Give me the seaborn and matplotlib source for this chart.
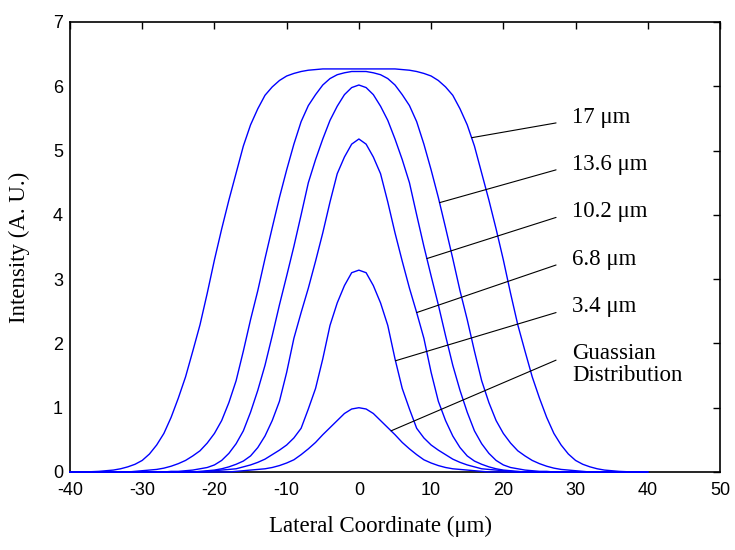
import numpy as np
import pandas as pd
import matplotlib
matplotlib.use("Agg")
import matplotlib.pyplot as plt
import seaborn as sns

# ---------------- data ----------------
x_um = [-40, -38, -36, -34, -33, -32, -31, -30, -29, -28, -27, -26, -25, -24, -23, -22, -21,
        -20, -19, -18, -17, -16, -15, -14, -13, -12, -11, -10, -9, -8, -7, -6, -5, -4, -3, -2, -1,
        0,
        1, 2, 3, 4, 5, 6, 7, 8, 9, 10, 11, 12, 13, 14, 15, 16, 17, 18, 19, 20,
        21, 22, 23, 24, 25, 26, 27, 28, 29, 30, 31, 32, 33, 34, 36, 38, 40]

i_17 = [0.0, 0.0, 0.01, 0.03, 0.05, 0.08, 0.12, 0.18, 0.28, 0.42, 0.60, 0.85, 1.15, 1.48, 1.88, 2.29, 2.78,
        3.30, 3.78, 4.23, 4.65, 5.07, 5.40, 5.65, 5.86, 5.99, 6.09, 6.16, 6.20, 6.23, 6.25, 6.26, 6.27, 6.27, 6.27, 6.27, 6.27,
        6.27,
        6.27, 6.27, 6.27, 6.27, 6.27, 6.26, 6.25, 6.23, 6.20, 6.16, 6.09, 5.99, 5.86, 5.65, 5.40, 5.07, 4.65, 4.23, 3.78, 3.30,
        2.78, 2.29, 1.88, 1.48, 1.15, 0.85, 0.60, 0.42, 0.28, 0.18, 0.12, 0.08, 0.05, 0.03, 0.01, 0.0, 0.0]

i_13_6 = [0.0, 0.0, 0.0, 0.0, 0.0, 0.0, 0.01, 0.02, 0.03, 0.04, 0.06, 0.09, 0.13, 0.18, 0.25, 0.33, 0.45,
          0.60, 0.80, 1.08, 1.42, 1.88, 2.37, 2.82, 3.32, 3.80, 4.27, 4.70, 5.10, 5.45, 5.70, 5.87, 6.02, 6.12, 6.18, 6.21, 6.23,
          6.23,
          6.23, 6.21, 6.18, 6.12, 6.02, 5.87, 5.70, 5.45, 5.10, 4.70, 4.27, 3.80, 3.32, 2.82, 2.37, 1.88, 1.42, 1.08, 0.80, 0.60,
          0.45, 0.33, 0.25, 0.18, 0.13, 0.09, 0.06, 0.04, 0.03, 0.02, 0.01, 0.0, 0.0, 0.0, 0.0, 0.0, 0.0]

i_10_2 = [0.0, 0.0, 0.0, 0.0, 0.0, 0.0, 0.0, 0.0, 0.0, 0.0, 0.0, 0.01, 0.01, 0.02, 0.03, 0.05, 0.07,
          0.11, 0.18, 0.29, 0.44, 0.64, 0.93, 1.27, 1.66, 2.12, 2.60, 3.05, 3.51, 4.00, 4.50, 4.86, 5.18, 5.47, 5.69, 5.87, 5.98,
          6.02,
          5.98, 5.87, 5.69, 5.47, 5.18, 4.86, 4.50, 4.00, 3.51, 3.05, 2.60, 2.12, 1.66, 1.27, 0.93, 0.64, 0.44, 0.29, 0.18, 0.11,
          0.07, 0.05, 0.03, 0.02, 0.01, 0.01, 0.0, 0.0, 0.0, 0.0, 0.0, 0.0, 0.0, 0.0, 0.0, 0.0, 0.0]

i_6_8 = [0.0, 0.0, 0.0, 0.0, 0.0, 0.0, 0.0, 0.0, 0.0, 0.0, 0.0, 0.0, 0.0, 0.0, 0.0, 0.01, 0.02,
         0.03, 0.05, 0.08, 0.12, 0.17, 0.25, 0.38, 0.56, 0.80, 1.10, 1.55, 2.08, 2.48, 2.86, 3.28, 3.72, 4.20, 4.64, 4.90, 5.10,
         5.18,
         5.10, 4.90, 4.64, 4.20, 3.72, 3.28, 2.86, 2.48, 2.08, 1.55, 1.10, 0.80, 0.56, 0.38, 0.25, 0.17, 0.12, 0.08, 0.05, 0.03,
         0.02, 0.01, 0.0, 0.0, 0.0, 0.0, 0.0, 0.0, 0.0, 0.0, 0.0, 0.0, 0.0, 0.0, 0.0, 0.0, 0.0]

i_3_4 = [0.0, 0.0, 0.0, 0.0, 0.0, 0.0, 0.0, 0.0, 0.0, 0.0, 0.0, 0.0, 0.0, 0.0, 0.0, 0.0, 0.01,
         0.02, 0.03, 0.04, 0.05, 0.08, 0.11, 0.15, 0.20, 0.27, 0.34, 0.42, 0.53, 0.68, 0.98, 1.30, 1.76, 2.28, 2.63, 2.90, 3.10,
         3.14,
         3.10, 2.90, 2.63, 2.28, 1.76, 1.30, 0.98, 0.68, 0.53, 0.42, 0.34, 0.27, 0.20, 0.15, 0.11, 0.08, 0.05, 0.04, 0.03, 0.02,
         0.01, 0.0, 0.0, 0.0, 0.0, 0.0, 0.0, 0.0, 0.0, 0.0, 0.0, 0.0, 0.0, 0.0, 0.0, 0.0, 0.0]

i_gauss = [0.0, 0.0, 0.0, 0.0, 0.0, 0.0, 0.0, 0.0, 0.0, 0.0, 0.0, 0.0, 0.0, 0.0, 0.0, 0.0, 0.0,
           0.0, 0.0, 0.0, 0.01, 0.02, 0.03, 0.04, 0.05, 0.07, 0.10, 0.14, 0.19, 0.27, 0.36, 0.46, 0.58, 0.69, 0.80, 0.91, 0.98,
           1.00,
           0.98, 0.91, 0.80, 0.69, 0.58, 0.46, 0.36, 0.27, 0.19, 0.14, 0.10, 0.07, 0.05, 0.04, 0.03, 0.02, 0.01, 0.0, 0.0, 0.0,
           0.0, 0.0, 0.0, 0.0, 0.0, 0.0, 0.0, 0.0, 0.0, 0.0, 0.0, 0.0, 0.0, 0.0, 0.0, 0.0, 0.0]

profile_names = ["17 μm", "13.6 μm", "10.2 μm", "6.8 μm", "3.4 μm", "Guassian\nDistribution"]
profiles = [i_17, i_13_6, i_10_2, i_6_8, i_3_4, i_gauss]

x_ticks = [-40, -30, -20, -10, 0, 10, 20, 30, 40, 50]
y_ticks = [0, 1, 2, 3, 4, 5, 6, 7]

df = pd.concat(
    [pd.DataFrame({"x": x_um, "intensity": vals, "profile": name})
     for name, vals in zip(profile_names, profiles)],
    ignore_index=True)

# ---------------- style ----------------
sns.set_theme(style="white")
plt.rcParams["font.family"] = ["Liberation Sans", "DejaVu Sans"]
plt.rcParams["axes.unicode_minus"] = False

fig = plt.figure(figsize=(7.35, 5.5), dpi=100)
ax = fig.add_axes([70 / 735, 1 - 472 / 550, 650 / 735, 450 / 550])

sns.lineplot(data=df, x="x", y="intensity", hue="profile",
             palette=["#0000ff"] * len(profile_names), legend=False,
             sort=False, estimator=None, linewidth=1.0, ax=ax, zorder=3)
for ln in ax.get_lines():
    ln.set_clip_on(False)

ax.set_xlim(-40, 50)
ax.set_ylim(0, 7)
ax.set_xticks(x_ticks)
ax.set_yticks(y_ticks)
ax.tick_params(direction="in", top=True, right=True, length=5, width=1.0,
               colors="black", labelsize=13)
ax.tick_params(axis="x", pad=7)
ax.tick_params(axis="y", pad=5)
for s in ax.spines.values():
    s.set_color("black")
    s.set_linewidth(1.2)

serif = ["Liberation Serif", "DejaVu Serif"]
ax.set_xlabel("Lateral Coordinate (μm)", family=serif, fontsize=16.5, color="black")
ax.set_ylabel("Intensity (A. U.)", family=serif, fontsize=16.5, color="black")
ax.xaxis.set_label_coords(0.478, -0.098)
ax.yaxis.set_label_coords(-0.062, 0.5)

# annotation leaders: (x on curve, y on curve), end point, label y
leaders = [((15.6, 5.20), (27.3, 5.43), 5.52),
           ((11.17, 4.19), (27.3, 4.70), 4.79),
           ((9.41, 3.32), (27.3, 3.96), 4.05),
           ((8.0, 2.48), (27.3, 3.22), 3.31),
           ((5.06, 1.73), (27.3, 2.48), 2.58),
           ((4.45, 0.64), (27.3, 1.74), 1.67)]
for name, (p0, p1, ty) in zip(profile_names, leaders):
    ax.plot([p0[0], p1[0]], [p0[1], p1[1]], color="black", lw=0.8, zorder=4)
    ax.text(29.5, ty, name, family=serif, fontsize=16.5, ha="left", va="center",
            linespacing=1.05, color="black")

fig.savefig("out.png", dpi=100)
